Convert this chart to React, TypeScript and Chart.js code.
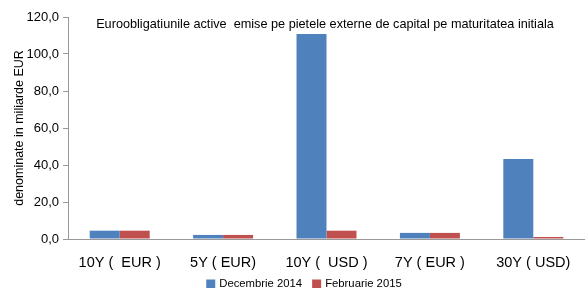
import React, { useEffect, useRef } from "react";
import { Chart, registerables } from "chart.js";

Chart.register(...registerables);

const categories = ["10Y (  EUR )", "5Y ( EUR)", "10Y (  USD )", "7Y ( EUR )", "30Y ( USD)"];
const dec2014 = [4.5, 2.2, 110.8, 3.3, 43.2];
const feb2015 = [4.5, 2.2, 4.5, 3.3, 1.1];
const seriesNames = ["Decembrie 2014", "Februarie 2015"];
const seriesColors = ["#4F81BD", "#C0504D"];
const chartTitle = "Euroobligatiunile active  emise pe pietele externe de capital pe maturitatea initiala";
const yTitle = "denominate in miliarde EUR";

const FONT = "'Liberation Sans', Arial, sans-serif";

const overlayPlugin = {
  id: "overlay",
  afterDraw(chart: any) {
    const ctx = chart.ctx;
    ctx.save();
    ctx.font = `12.7px ${FONT}`;
    ctx.fillStyle = "#000";
    ctx.textAlign = "center";
    ctx.textBaseline = "middle";
    ctx.fillText(chartTitle, 325, 24);

    // legend
    ctx.font = `11.3px ${FONT}`;
    ctx.textAlign = "left";
    const box = 9, gapBox = 4, gapItem = 10;
    const items = chart.data.datasets.map((d: any) => ({
      label: d.label,
      color: d.backgroundColor,
      w: box + gapBox + ctx.measureText(d.label).width,
    }));
    const total = items.reduce((a: number, it: any) => a + it.w, 0) + gapItem * (items.length - 1);
    let x = 304 - total / 2;
    const cy = 284;
    items.forEach((it: any) => {
      ctx.fillStyle = it.color;
      ctx.fillRect(x, cy - box / 2, box, box);
      ctx.fillStyle = "#000";
      ctx.fillText(it.label, x + box + gapBox, cy);
      x += it.w + gapItem;
    });
    ctx.restore();
  },
};

export default function App() {
  const ref = useRef<HTMLCanvasElement>(null);
  useEffect(() => {
    document.body.style.margin = "0";
    const chart = new Chart(ref.current!, {
      type: "bar",
      data: {
        labels: categories,
        datasets: [
          { label: seriesNames[0], data: dec2014, backgroundColor: seriesColors[0] },
          { label: seriesNames[1], data: feb2015, backgroundColor: seriesColors[1] },
        ],
      },
      options: {
        animation: false,
        responsive: false,
        layout: { padding: { top: 17, right: 0, left: 12, bottom: 16 } },
        datasets: { bar: { barPercentage: 1, categoryPercentage: 0.58 } },
        scales: {
          x: {
            grid: { display: false, drawOnChartArea: false, offset: true, tickLength: 5, color: "#999" },
            border: { color: "#999" },
            ticks: { color: "#000", font: { family: FONT, size: 14.5 }, padding: 10, maxRotation: 0 },
            afterFit: (s: any) => { s.height = 33; },
          },
          y: {
            min: 0,
            max: 120,
            grid: { drawOnChartArea: false, tickLength: 5, color: "#999" },
            border: { color: "#999" },
            ticks: {
              stepSize: 20,
              color: "#000",
              font: { family: FONT, size: 13 },
              padding: 4,
              callback: (v: any) => Number(v).toFixed(1).replace(".", ","),
            },
            title: { display: true, text: yTitle, color: "#000", font: { family: FONT, size: 12.5 }, padding: 0 },
            afterFit: (s: any) => { s.width = 56; },
          },
        },
        plugins: {
          legend: { display: false },
          tooltip: { enabled: false },
        },
      },
      plugins: [overlayPlugin],
    } as any);
    return () => chart.destroy();
  }, []);
  return <canvas ref={ref} width={585} height={288} style={{ display: "block" }} />;
}
